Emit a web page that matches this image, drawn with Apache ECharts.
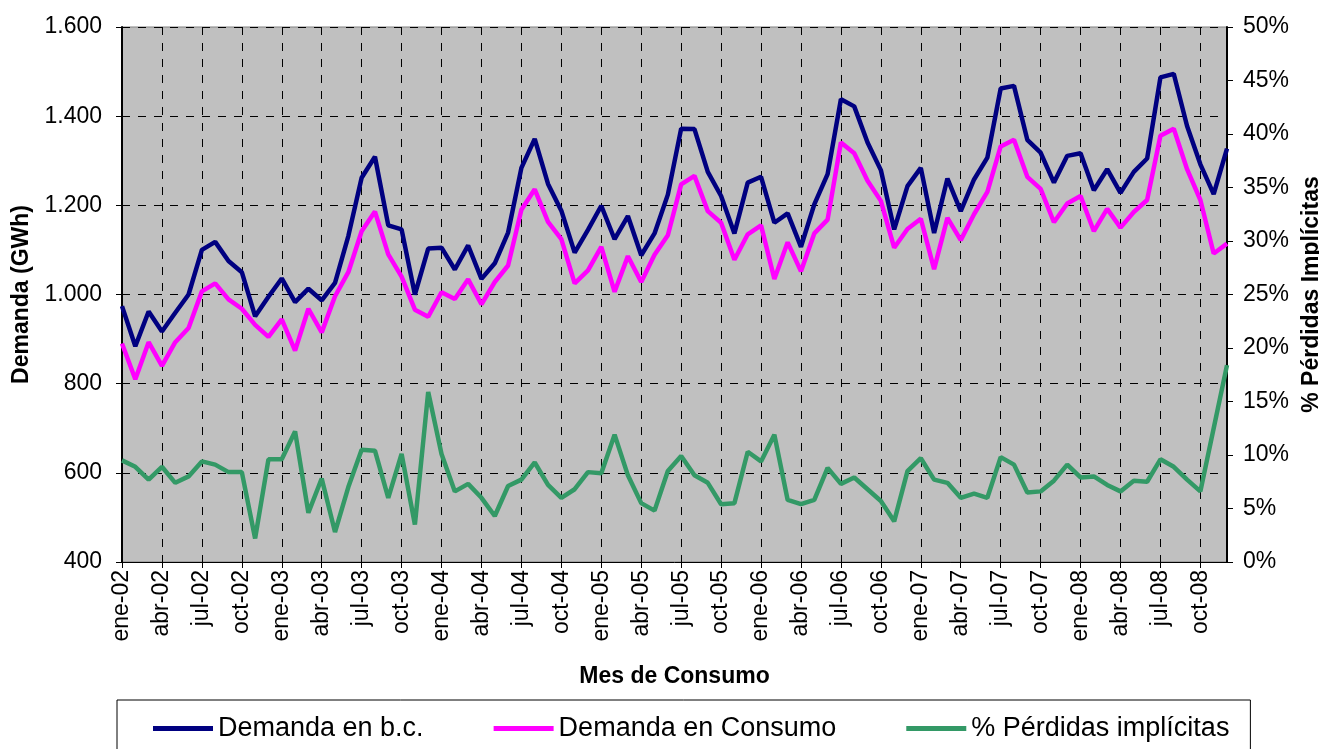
<!DOCTYPE html>
<html>
<head>
<meta charset="utf-8">
<script src="https://cdn.jsdelivr.net/npm/echarts@6/dist/echarts.min.js"></script>
<style>
html,body{margin:0;padding:0;background:#fff;}
#chart{width:1319px;height:749px;}
</style>
</head>
<body>
<div id="chart"></div>
<script>
var meses = ['ene','feb','mar','abr','may','jun','jul','ago','sep','oct','nov','dic']
var anios = ['02','03','04','05','06','07','08']

// Demanda en barras de central (GWh)
var demandaBC = [
    974, 884, 962, 917, 959, 1000, 1100, 1118, 1075, 1050, 951, 995,
    1036, 983, 1013, 987, 1026, 1131, 1262, 1309, 1155, 1146, 1000, 1103,
    1105, 1056, 1110, 1035, 1070, 1139, 1284, 1349, 1248, 1188, 1094, 1145,
    1199, 1124, 1176, 1088, 1137, 1224, 1372, 1371, 1275, 1221, 1137, 1251,
    1264, 1161, 1182, 1107, 1202, 1270, 1438, 1422, 1341, 1279, 1146, 1243,
    1284, 1138, 1260, 1187, 1258, 1307, 1462, 1468, 1347, 1318, 1251, 1311,
    1317, 1234, 1281, 1228, 1275, 1305, 1487, 1495, 1378, 1292, 1225, 1327
]
// Demanda en consumo (GWh)
var demandaConsumo = [
    890, 810, 893, 840, 893, 925, 1007, 1025, 989, 968, 932, 905,
    944, 874, 968, 915, 996, 1050, 1142, 1186, 1090, 1040, 966, 950,
    1005, 990, 1034, 978, 1028, 1065, 1190, 1236, 1163, 1124, 1025, 1054,
    1107, 1006, 1086, 1028, 1089, 1133, 1247, 1266, 1187, 1161, 1078, 1135,
    1155, 1035, 1117, 1052, 1137, 1168, 1341, 1317, 1255, 1210, 1105, 1147,
    1170, 1057, 1172, 1122, 1180, 1230, 1332, 1347, 1264, 1237, 1162, 1204,
    1221, 1142, 1192, 1150, 1185, 1212, 1356, 1372, 1281, 1212, 1092, 1114
]
// % perdidas implicitas
var perdidas = [
    9.5, 8.9, 7.7, 8.9, 7.4, 8.0, 9.4, 9.1, 8.4, 8.4, 2.2, 9.6,
    9.6, 12.2, 4.6, 7.8, 2.8, 7.0, 10.5, 10.4, 6.0, 10.1, 3.5, 15.9,
    10.1, 6.6, 7.3, 6.0, 4.3, 7.1, 7.7, 9.3, 7.2, 6.0, 6.8, 8.4,
    8.3, 11.9, 8.1, 5.5, 4.8, 8.5, 9.9, 8.1, 7.4, 5.4, 5.5, 10.3,
    9.4, 11.9, 5.8, 5.4, 5.8, 8.8, 7.3, 7.9, 6.8, 5.7, 3.8, 8.5,
    9.7, 7.7, 7.4, 6.0, 6.4, 6.0, 9.8, 9.1, 6.5, 6.6, 7.6, 9.1,
    7.9, 8.0, 7.2, 6.6, 7.6, 7.5, 9.6, 8.9, 7.7, 6.6, 12.5, 18.4
]

var categorias = []
anios.forEach(function(a){
    meses.forEach(function(m){
        categorias.push(m + '-' + a)
    })
})

var fuente = 'Liberation Sans, Arial, sans-serif'

function miles(v){
    if(v >= 1000){
        return Math.floor(v/1000) + '.' + String(v % 1000).padStart(3,'0')
    }
    return String(v)
}

var chart = echarts.init(document.getElementById('chart'))
chart.setOption({
    animation:false,
    backgroundColor:'#ffffff',
    textStyle:{fontFamily:fuente},
    grid:{
        left:122,
        right:92,
        top:27,
        bottom:187,
        outerBoundsMode:'none',
        containLabel:false,
        show:true,
        backgroundColor:'#c0c0c0',
        borderColor:'#808080',
        borderWidth:1
    },
    legend:{
        left:117,
        top:700,
        padding:[15,21,40,36],
        borderColor:'#000',
        borderWidth:1,
        backgroundColor:'#fff',
        icon:'rect',
        itemWidth:60,
        itemHeight:5,
        itemGap:70,
        textStyle:{fontSize:27,color:'#000',fontFamily:fuente},
        data:['Demanda en b.c.','Demanda en Consumo','% Pérdidas implícitas']
    },
    xAxis:{
        type:'category',
        data:categorias,
        boundaryGap:false,
        name:'Mes de Consumo',
        nameLocation:'middle',
        nameGap:103,
        nameTextStyle:{fontSize:23,fontWeight:'bold',color:'#000'},
        axisLine:{lineStyle:{color:'#000',width:1}},
        axisTick:{show:true,interval:2,length:6,lineStyle:{color:'#000'}},
        axisLabel:{interval:2,rotate:90,fontSize:23,color:'#000',margin:8},
        splitLine:{show:true,interval:2,lineStyle:{color:'#000',type:[8,8],width:1}}
    },
    yAxis:[{
        type:'value',
        min:400,
        max:1600,
        interval:200,
        position:'left',
        name:'Demanda (GWh)',
        nameLocation:'middle',
        nameRotate:90,
        nameGap:89,
        nameTextStyle:{fontSize:23,fontWeight:'bold',color:'#000'},
        axisLine:{show:true,lineStyle:{color:'#000',width:2}},
        axisTick:{show:true,length:6,lineStyle:{color:'#000'}},
        axisLabel:{fontSize:23,color:'#000',margin:20,formatter:miles},
        splitLine:{show:true,lineStyle:{color:'#000',type:[8,8],width:1}}
    },{
        type:'value',
        min:0,
        max:50,
        interval:5,
        position:'right',
        name:'% Pérdidas Implícitas',
        nameLocation:'middle',
        nameRotate:90,
        nameGap:66,
        nameTextStyle:{fontSize:23,fontWeight:'bold',color:'#000'},
        axisLine:{show:true,lineStyle:{color:'#000',width:2}},
        axisTick:{show:true,length:6,lineStyle:{color:'#000'}},
        axisLabel:{fontSize:23,color:'#000',margin:16,formatter:'{value}%'},
        splitLine:{show:false}
    }],
    series:[{
        name:'Demanda en b.c.',
        type:'line',
        data:demandaBC,
        showSymbol:false,
        color:'#000080',
        lineStyle:{color:'#000080',width:4.5}
    },{
        name:'Demanda en Consumo',
        type:'line',
        data:demandaConsumo,
        showSymbol:false,
        color:'#ff00ff',
        lineStyle:{color:'#ff00ff',width:4.5}
    },{
        name:'% Pérdidas implícitas',
        type:'line',
        yAxisIndex:1,
        data:perdidas,
        showSymbol:false,
        color:'#339966',
        lineStyle:{color:'#339966',width:4.5}
    }]
})
</script>
</body>
</html>
